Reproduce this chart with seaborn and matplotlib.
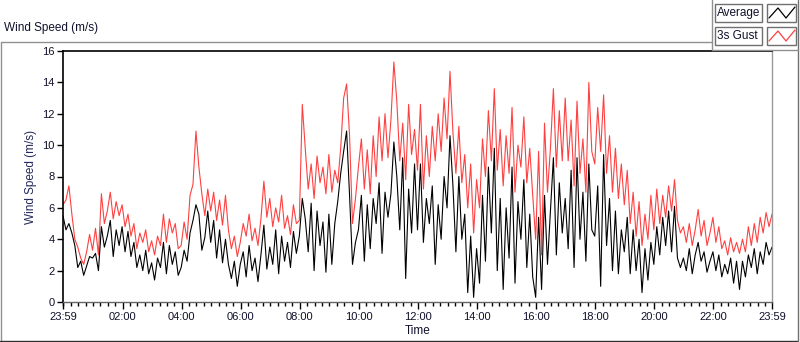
import numpy as np
import pandas as pd
import matplotlib
matplotlib.use("Agg")
import matplotlib.pyplot as plt
import seaborn as sns
from matplotlib.patches import Rectangle
from matplotlib.lines import Line2D
from matplotlib.ticker import FixedLocator, MultipleLocator

# =========================
# data: one reading every 6 minutes, from 23:59 (day before) to 23:59
# =========================
start_min = -1
step_min = 6

avg_speed = [
    5.5, 4.6, 5.0, 4.4, 3.6, 2.2, 2.6, 1.7, 2.3, 2.9,    # 00h
    2.8, 3.1, 2.0, 4.8, 3.5, 4.2, 5.2, 2.9, 4.6, 3.6,    # 01h
    4.8, 3.2, 4.5, 2.9, 3.8, 2.2, 3.0, 2.0, 3.3, 1.8,    # 02h
    2.5, 1.4, 2.8, 2.2, 3.8, 1.8, 3.6, 2.4, 3.2, 1.7,    # 03h
    2.2, 3.3, 2.6, 4.4, 5.2, 6.2, 5.6, 3.3, 4.1, 5.8,    # 04h
    3.8, 5.2, 2.8, 4.6, 2.5, 4.0, 2.4, 1.5, 2.6, 1.0,    # 05h
    2.4, 3.2, 1.6, 3.6, 2.0, 2.8, 1.3, 3.0, 4.9, 2.1,    # 06h
    3.5, 2.4, 4.6, 1.8, 4.2, 2.6, 3.8, 2.2, 4.5, 3.1,    # 07h
    4.2, 6.6, 5.3, 3.2, 6.3, 2.0, 5.8, 3.6, 5.1, 1.9,    # 08h
    5.6, 2.4, 5.0, 6.4, 8.2, 9.6, 10.9, 6.8, 2.4, 3.8,   # 09h
    4.6, 6.8, 2.6, 6.2, 3.4, 6.6, 5.0, 7.6, 3.1, 7.0,    # 10h
    5.4, 6.9, 10.2, 8.0, 4.6, 9.2, 1.5, 7.2, 4.4, 8.8,   # 11h
    4.6, 8.8, 3.8, 6.6, 5.0, 7.4, 2.4, 6.2, 4.0, 8.0,    # 12h
    6.0, 10.6, 7.4, 3.2, 8.0, 4.0, 5.6, 0.6, 4.2, 0.3,   # 13h
    3.4, 1.2, 6.8, 2.6, 8.6, 4.4, 9.8, 2.0, 6.6, 0.8,    # 14h
    6.0, 2.8, 8.6, 1.2, 6.4, 4.0, 7.8, 2.2, 5.6, 1.6,    # 15h
    0.3, 5.4, 0.8, 6.8, 2.4, 5.8, 9.2, 3.0, 7.6, 4.4,    # 16h
    6.6, 3.4, 8.4, 2.2, 9.2, 4.0, 7.0, 2.6, 8.8, 4.6,    # 17h
    4.2, 7.4, 1.0, 9.4, 3.6, 6.6, 2.0, 5.8, 1.8, 4.6,    # 18h
    3.2, 5.4, 1.8, 4.6, 2.0, 4.0, 0.6, 3.4, 1.4, 3.8,    # 19h
    2.4, 4.8, 3.0, 5.4, 3.6, 5.8, 3.2, 6.1, 2.8, 2.2,    # 20h
    2.8, 2.0, 3.4, 1.8, 3.0, 3.8, 2.6, 3.2, 1.9, 2.6,    # 21h
    3.2, 2.0, 3.0, 1.6, 2.4, 1.8, 2.8, 1.2, 2.6, 0.8,    # 22h
    2.6, 1.6, 3.0, 2.2, 3.4, 1.8, 3.2, 2.4, 3.8, 3.0,    # 23h
    3.5,
]

gust_speed = [
    6.2, 6.5, 7.4, 5.6, 4.0, 3.5, 2.8, 2.4, 3.2, 4.3,
    3.3, 4.7, 3.0, 6.9, 5.0, 5.8, 7.0, 5.3, 6.4, 5.5,
    6.2, 4.8, 5.6, 4.2, 5.0, 3.4, 4.4, 3.8, 4.6, 3.2,
    3.9, 3.0, 4.2, 3.6, 5.6, 3.8, 5.3, 4.4, 5.0, 3.4,
    3.6, 5.1, 4.0, 6.8, 7.5, 10.9, 8.6, 6.9, 5.5, 7.2,
    5.8, 7.0, 5.2, 6.5, 4.9, 6.8, 4.6, 3.4, 4.2, 2.9,
    3.8, 5.0, 4.2, 5.6, 3.9, 4.7, 3.6, 5.3, 7.7, 5.4,
    6.6, 4.8, 6.0, 5.1, 6.8, 4.7, 5.5, 4.3, 6.2, 5.0,
    5.2, 12.6, 9.8, 7.2, 8.8, 6.6, 9.3, 7.6, 8.6, 6.9,
    9.4, 7.0, 8.4, 7.6, 9.8, 13.0, 13.9, 10.6, 5.0, 6.6,
    8.6, 10.4, 7.2, 9.7, 6.9, 10.6, 8.0, 11.8, 9.0, 12.0,
    9.2, 11.6, 15.3, 12.8, 9.0, 11.4, 7.8, 12.6, 9.4, 11.0,
    8.4, 12.6, 7.2, 10.6, 8.0, 11.2, 9.0, 12.0, 9.6, 13.0,
    10.4, 14.7, 10.8, 8.2, 11.2, 7.6, 9.4, 6.0, 8.8, 4.4,
    7.8, 6.0, 10.4, 8.0, 12.2, 9.0, 13.6, 8.4, 11.0, 7.4,
    10.6, 8.2, 12.4, 7.0, 10.0, 8.6, 11.8, 7.6, 9.8, 6.8,
    4.0, 9.6, 3.0, 11.4, 7.0, 9.8, 13.6, 8.6, 12.2, 9.0,
    13.0, 9.0, 11.6, 7.4, 12.8, 8.2, 10.4, 7.0, 14.0, 9.6,
    8.8, 12.4, 9.6, 13.2, 8.2, 10.6, 7.0, 9.8, 6.6, 8.8,
    6.2, 8.4, 5.0, 7.0, 4.2, 6.4, 3.6, 5.6, 4.0, 6.8,
    4.6, 7.2, 5.0, 6.8, 5.4, 7.4, 5.8, 7.8, 5.2, 4.4,
    4.8, 3.8, 5.0, 3.6, 4.6, 5.9, 4.2, 5.2, 3.6, 4.4,
    5.4, 3.8, 4.8, 3.4, 3.9, 3.0, 4.1, 3.2, 3.8, 3.1,
    4.0, 3.2, 4.8, 3.6, 5.0, 3.8, 5.4, 4.4, 5.7, 4.8,
    5.6,
]

series_names = ["3s Gust", "Average"]
series_colors = {"3s Gust": "#ff4040", "Average": "black"}

tick_minutes = [-1, 120, 240, 360, 480, 600, 720, 840, 960, 1080, 1200, 1320, 1439]
tick_labels = ["23:59", "02:00", "04:00", "06:00", "08:00", "10:00", "12:00",
               "14:00", "16:00", "18:00", "20:00", "22:00", "23:59"]
y_ticks = [0, 2, 4, 6, 8, 10, 12, 14, 16]

# =========================
# build long table
# =========================
n = len(avg_speed)
minutes = start_min + step_min * np.arange(n)
df = pd.DataFrame({
    "minute": np.concatenate([minutes, minutes]),
    "speed": gust_speed + avg_speed,
    "series": ["3s Gust"] * n + ["Average"] * n,
})

# =========================
# plot
# =========================
sns.set_style("white")
plt.rcParams["font.family"] = ["Liberation Sans", "DejaVu Sans"]

W, H = 800, 342
fig = plt.figure(figsize=(W / 100, H / 100), dpi=100)
ax = fig.add_axes([63 / W, 1 - 302 / H, (772 - 63) / W, (302 - 51) / H])

sns.lineplot(data=df, x="minute", y="speed", hue="series", hue_order=series_names,
             palette=series_colors, estimator=None, sort=False, legend=False,
             linewidth=0.8, ax=ax)

ax.set_xlim(tick_minutes[0], tick_minutes[-1])
ax.set_ylim(0, 16)
ax.xaxis.set_major_locator(FixedLocator(tick_minutes))
ax.set_xticklabels(tick_labels)
ax.xaxis.set_minor_locator(MultipleLocator(15))
ax.set_yticks(y_ticks)
ax.set_yticklabels([str(v) for v in y_ticks])

ax.tick_params(axis="both", which="major", direction="out", length=4, width=1,
               color="black", labelsize=8, labelcolor="#10102a", pad=2)
ax.tick_params(axis="x", which="minor", direction="out", length=3, width=1,
               color="black", bottom=True)
ax.tick_params(axis="x", which="major", length=5, bottom=True)
ax.tick_params(axis="y", left=True)

ax.set_xlabel("Time", fontsize=8.5, color="#10102a", labelpad=2)
ax.set_ylabel("Wind Speed (m/s)", fontsize=8.5, color="#22285a", labelpad=4)

for side in ["left", "top"]:
    ax.spines[side].set_color("black")
    ax.spines[side].set_linewidth(1.2)
ax.spines["bottom"].set_color("#666666")
ax.spines["right"].set_color("#999999")
for side in ["bottom", "right"]:
    ax.spines[side].set_linewidth(1.0)


# =========================
# frame, title and legend panel (pixel coords -> figure coords)
# =========================
def fx(x):
    return x / W


def fy(y):
    return 1 - y / H


def px_line(x0, y0, x1, y1, color):
    fig.add_artist(Line2D([fx(x0), fx(x1)], [fy(y0), fy(y1)], color=color, lw=1,
                          transform=fig.transFigure))


px_line(0.5, 42, 712, 42, "#909090")
px_line(0.5, 42, 0.5, 341, "#909090")
px_line(0, 341, 798, 341, "#303030")
px_line(798, 0, 798, 341, "#707070")
px_line(712, 0, 712, 50, "#909090")
px_line(712, 50, 798, 50, "#909090")

fig.text(fx(4), fy(31), "Wind Speed (m/s)", fontsize=8.5, color="#10102a",
         ha="left", va="baseline")

for row, name in enumerate(["Average", "3s Gust"]):
    top = 4 + row * 23
    bot = top + 18
    fig.add_artist(Rectangle((fx(715), fy(bot)), fx(762) - fx(715), fy(top) - fy(bot),
                             transform=fig.transFigure, fill=True, fc="white",
                             ec="#707070", lw=1))
    fig.text(fx(717), fy((top + bot) / 2), name, fontsize=8.5, color="#10102a",
             ha="left", va="center")
    fig.add_artist(Rectangle((fx(767), fy(bot)), fx(796) - fx(767), fy(top) - fy(bot),
                             transform=fig.transFigure, fill=True, fc="white",
                             ec="#707070", lw=1))
    zig_x = [769, 778, 786, 795]
    zig_y = [bot - 4, top + 4, bot - 4, top + 3]
    fig.add_artist(Line2D([fx(v) for v in zig_x], [fy(v) for v in zig_y],
                          color=series_colors[name], lw=0.9, transform=fig.transFigure))

fig.savefig("out.png", dpi=100)
